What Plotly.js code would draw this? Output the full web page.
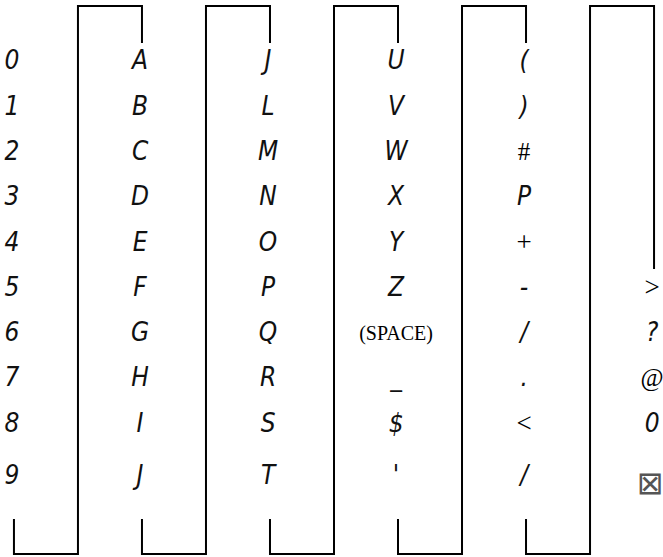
<!DOCTYPE html>
<html><head><meta charset="utf-8">
<script src="https://cdn.plot.ly/plotly-3.0.1.min.js"></script>
<style>html,body{margin:0;padding:0;background:#fff}#chart{width:663px;height:557px}</style>
</head><body><div id="chart"></div>
<script>
// Character columns (top to bottom); "" = empty cell
const col0 = ["0","1","2","3","4","5","6","7","8","9"];
const col1 = ["A","B","C","D","E","F","G","H","I","J"];
const col2 = ["J","L","M","N","O","P","Q","R","S","T"];
const col3 = ["U","V","W","X","Y","Z","(SPACE)","_","$","'"];
const col4 = ["(",")","#","P","+","-","/",".","<","/"];
const col5 = ["","","","","",">","?","@","0","⊠"];
// Characters that the reference shows in a serif (non-segment) face
const serifChars = ["(SPACE)","#","+","<",">","@"];
// Characters shown as a filled (all-segments) block
const blockChars = ["⊠"];

const columns = [col0, col1, col2, col3, col4, col5];

// layout geometry in axis units (x: column index, y: row index)
const TOP = -1.26, STUB_TOP = -0.44, BOTTOM = 10.85, STUB_BOTTOM = 10.08, LAST_END = 4.55;
function rowPos(r){ return r < 9 ? r : 9.15; }

const seg = {x:[], y:[], t:[]}, ser = {x:[], y:[], t:[], s:[]}, blk = {x:[], y:[], t:[]};
columns.forEach((col, c) => {
  col.forEach((ch, r) => {
    if (!ch) return;
    if (blockChars.includes(ch)) {
      blk.x.push(c - 0.03); blk.y.push(rowPos(r) + 0.2); blk.t.push(ch);
    } else if (serifChars.includes(ch)) {
      ser.x.push(c - 0.015); ser.y.push(rowPos(r)); ser.t.push(ch); ser.s.push(ch.length > 1 ? 20 : (ch === '#' || ch === '@' ? 25 : 27));
    } else {
      seg.x.push(c - 0.015); seg.y.push(rowPos(r)); seg.t.push(ch);
    }
  });
});

// serpentine frame
const lx = [], ly = [];
for (let i = 0; i < columns.length - 1; i++) {
  const last = i === columns.length - 2;
  lx.push(i, i, i + 0.5, i + 0.5, i + 1, i + 1, null);
  ly.push(STUB_BOTTOM, BOTTOM, BOTTOM, TOP, TOP, last ? LAST_END : STUB_TOP, null);
}

const traces = [
  {x: lx, y: ly, mode: 'lines', line: {color: '#000', width: 2}, hoverinfo: 'skip', connectgaps: false},
  {x: seg.x, y: seg.y, text: seg.t, mode: 'text', textposition: 'middle center',
   textfont: {family: 'DejaVu Sans Condensed, Liberation Sans Narrow, sans-serif', size: 26, style: 'italic', color: '#111'}},
  {x: ser.x, y: ser.y, text: ser.t, mode: 'text', textposition: 'middle center',
   textfont: {family: 'Liberation Serif, Times New Roman, serif', size: ser.s, color: '#000'}},
  {x: blk.x, y: blk.y, text: blk.t, mode: 'text', textposition: 'middle center',
   textfont: {family: 'DejaVu Sans, sans-serif', size: 32, color: '#555'}}
];

const layout = {
  width: 663, height: 557,
  margin: {l: 0, r: 0, t: 0, b: 0},
  paper_bgcolor: '#fff', plot_bgcolor: '#fff',
  showlegend: false,
  xaxis: {range: [-0.109, 5.07], visible: false, fixedrange: true},
  yaxis: {range: [10.917, -1.392], visible: false, fixedrange: true}
};

Plotly.newPlot('chart', traces, layout, {staticPlot: true});
</script>
</body></html>
